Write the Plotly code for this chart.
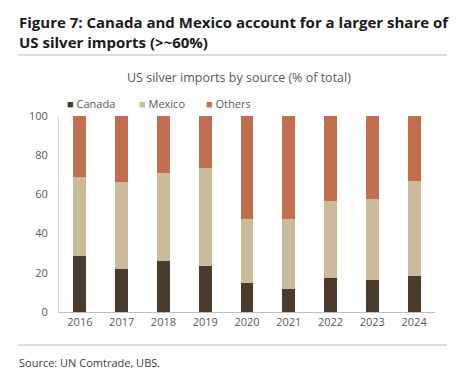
import plotly.graph_objects as go

years = ["2016", "2017", "2018", "2019", "2020", "2021", "2022", "2023", "2024"]
canada = [28.7, 21.8, 26.0, 23.5, 15.0, 11.7, 17.2, 16.5, 18.2]
mexico_cum = [69.0, 66.5, 71.0, 73.3, 47.3, 47.3, 56.8, 57.8, 66.8]
mexico = [round(m - c, 1) for m, c in zip(mexico_cum, canada)]
others = [round(100 - m, 1) for m in mexico_cum]

series_names = ["Canada", "Mexico", "Others"]
series_values = [canada, mexico, others]
series_colors = ["#4b3b2d", "#cbbb9a", "#c26f50"]

title_text = "<b>Figure 7: Canada and Mexico account for a larger share of<br>US silver imports (>~60%)</b>"
subtitle_text = "US silver imports by source (% of total)"
source_text = "Source: UN Comtrade, UBS."

chart_font = "Open Sans"
grey_text = "#595959"

fig = go.Figure()
for name, vals, col in zip(series_names, series_values, series_colors):
    fig.add_trace(go.Bar(x=years, y=vals, name=name, marker=dict(color=col, line=dict(width=0)),
                         showlegend=False))

L, R, T, B = 59, 21, 116, 66
W, H = 456, 378
pw, ph = W - L - R, H - T - B

def px_x(x):
    return (x - L) / pw

def px_y(y):
    return (H - B - y) / ph

annotations = []
# title
annotations.append(dict(text=title_text, x=px_x(17), y=px_y(10), xref="paper", yref="paper",
                        showarrow=False, xanchor="left", yanchor="top", align="left",
                        font=dict(family="Open Sans", size=15, color="#1a1a1a")))
# subtitle
annotations.append(dict(text=subtitle_text, x=px_x(239), y=px_y(78), xref="paper", yref="paper",
                        showarrow=False, xanchor="center", yanchor="middle",
                        font=dict(family=chart_font, size=12.5, color=grey_text)))
# custom legend
legend_x = [69, 141, 208]
for name, col, lx in zip(series_names, series_colors, legend_x):
    annotations.append(dict(text=f'<span style="color:{col}">■</span> {name}',
                            x=px_x(lx - 4), y=px_y(103.5), xref="paper", yref="paper",
                            showarrow=False, xanchor="left", yanchor="middle",
                            font=dict(family=chart_font, size=11, color=grey_text)))
# source
annotations.append(dict(text=source_text, x=px_x(17), y=px_y(362), xref="paper", yref="paper",
                        showarrow=False, xanchor="left", yanchor="middle",
                        font=dict(family=chart_font, size=11, color="#404040")))

shapes = [
    dict(type="line", xref="paper", yref="paper", x0=px_x(18), x1=px_x(447), y0=px_y(55), y1=px_y(55),
         line=dict(color="#d0d0d0", width=1.5)),
    dict(type="line", xref="paper", yref="paper", x0=px_x(18), x1=px_x(447), y0=px_y(345), y1=px_y(345),
         line=dict(color="#d0d0d0", width=1.5)),
]

fig.update_layout(
    barmode="stack",
    bargap=0.69,
    width=W, height=H,
    margin=dict(l=L, r=R, t=T, b=B, autoexpand=False),
    paper_bgcolor="white", plot_bgcolor="white",
    annotations=annotations,
    shapes=shapes,
    xaxis=dict(showgrid=False, showline=True, linecolor="#bfbfbf", linewidth=1, ticks="",
               tickfont=dict(family=chart_font, size=11, color=grey_text)),
    yaxis=dict(range=[0, 100], dtick=20, showgrid=False, showline=True, linecolor="#d9d9d9",
               linewidth=1, ticks="", zeroline=False, ticklabelstandoff=8,
               tickfont=dict(family=chart_font, size=11, color=grey_text)),
)

fig.write_html("out.html", config={"displayModeBar": False},
               post_script="document.body.style.margin='0';document.body.style.overflow='hidden';")
